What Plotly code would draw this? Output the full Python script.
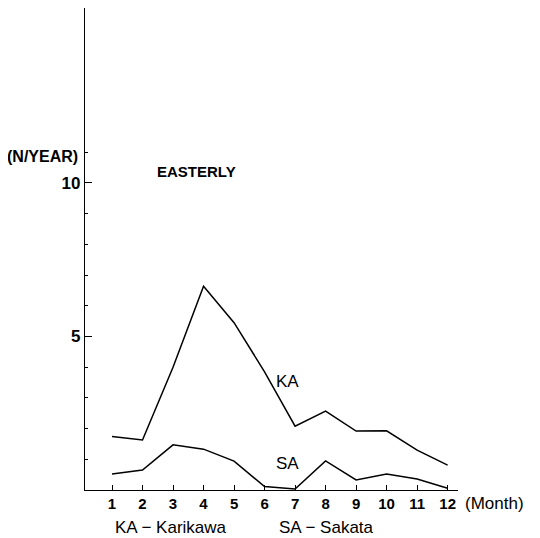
import plotly.graph_objects as go

months = list(range(1, 13))
month_labels = [str(m) for m in months]
ka_values = [1.74, 1.63, 4.0, 6.64, 5.45, 3.85, 2.08, 2.57, 1.92, 1.93, 1.30, 0.81]
sa_values = [0.52, 0.65, 1.47, 1.33, 0.94, 0.11, 0.03, 0.95, 0.33, 0.52, 0.36, 0.06]
y_major = [5, 10]
y_minor = [1, 2, 3, 4, 6, 7, 8, 9, 11]

font_main = "Liberation Sans, Arial, sans-serif"

fig = go.Figure()
fig.add_trace(go.Scatter(x=months, y=ka_values, mode="lines",
                         line=dict(color="black", width=1.5), showlegend=False))
fig.add_trace(go.Scatter(x=months, y=sa_values, mode="lines",
                         line=dict(color="black", width=1.5), showlegend=False))

fig.update_layout(
    width=540, height=538, autosize=False,
    margin=dict(l=77, r=90, t=0, b=56),
    paper_bgcolor="white", plot_bgcolor="white",
    font=dict(family=font_main, color="black"),
    xaxis=dict(range=[0.115, 12.34], showgrid=False, zeroline=False,
               showline=True, linecolor="black", linewidth=1.3,
               tickmode="array", tickvals=months, ticktext=month_labels,
               ticks="inside", ticklen=5, tickwidth=1.2, tickcolor="black",
               tickfont=dict(size=15, family=font_main, weight="bold")),
    yaxis=dict(range=[0, 15.7], showgrid=False, zeroline=False,
               showline=True, linecolor="black", linewidth=1.3,
               tickmode="array", tickvals=y_major, ticktext=[str(v) for v in y_major],
               ticks="inside", ticklen=7, tickwidth=1.2, tickcolor="black",
               tickfont=dict(size=17, family=font_main, weight="bold"),
               minor=dict(tickvals=y_minor, ticks="inside", ticklen=3,
                          tickwidth=1, tickcolor="black", showgrid=False)),
)

ann = [
    dict(text="(N/YEAR)", x=-0.0134, y=0.691, xanchor="right", size=16, bold=True),
    dict(text="EASTERLY", x=0.2976, y=0.66, xanchor="center", size=15, bold=True),
    dict(text="KA", x=0.5416, y=0.226, xanchor="center", size=17, bold=False),
    dict(text="SA", x=0.5416, y=0.056, xanchor="center", size=17, bold=False),
    dict(text="(Month)", x=1.0134, y=-0.027, xanchor="left", size=17, bold=False),
    dict(text="KA \u2212 Karikawa", x=0.075, y=-0.0768, xanchor="left", size=17, bold=False),
    dict(text="SA \u2212 Sakata", x=0.5147, y=-0.0768, xanchor="left", size=17, bold=False),
]
for a in ann:
    fig.add_annotation(text=a["text"], x=a["x"], y=a["y"], xref="paper", yref="paper",
                       xanchor=a["xanchor"], yanchor="middle", showarrow=False,
                       font=dict(size=a["size"], family=font_main, color="black",
                                 weight="bold" if a["bold"] else "normal"))

fig.write_html("out.html")
